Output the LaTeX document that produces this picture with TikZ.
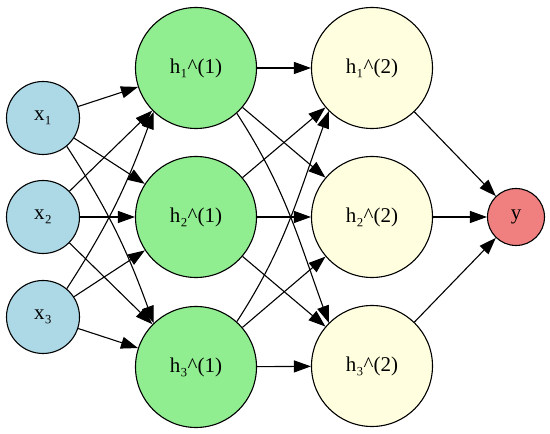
\documentclass[tikz,border=0pt]{standalone}
\usepackage{fontspec}
\setmainfont{Liberation Serif}
\usetikzlibrary{arrows.meta}
\definecolor{inblue}{RGB}{173,216,230}
\definecolor{hidgreen}{RGB}{144,238,144}
\definecolor{hidyellow}{RGB}{255,255,224}
\definecolor{outred}{RGB}{240,128,128}
\tikzset{
  neuron/.style={circle,draw=black,line width=1.1pt,inner sep=0pt,font=\fontsize{21}{24}\selectfont},
  inneuron/.style={neuron,fill=inblue,minimum size=73pt},
  h1neuron/.style={neuron,fill=hidgreen,minimum size=121pt},
  h2neuron/.style={neuron,fill=hidyellow,minimum size=121pt},
  outneuron/.style={neuron,fill=outred,minimum size=57pt},
  conn/.style={draw=black,line width=1.1pt,-{Triangle[length=17pt,width=12pt]}}
}
\begin{document}
\begin{tikzpicture}[x=1pt,y=1pt]
\useasboundingbox (0,0) rectangle (550,434);
\node[inneuron] (x1) at (43,316) {x₁};
\node[inneuron] (x2) at (43,217) {x₂};
\node[inneuron] (x3) at (43,117) {x₃};
\node[h1neuron] (a1) at (196,366) {h₁\textasciicircum(1)};
\node[h1neuron] (a2) at (196,217) {h₂\textasciicircum(1)};
\node[h1neuron] (a3) at (196,67) {h₃\textasciicircum(1)};
\node[h2neuron] (b1) at (372,366) {h₁\textasciicircum(2)};
\node[h2neuron] (b2) at (372,217) {h₂\textasciicircum(2)};
\node[h2neuron] (b3) at (372,68) {h₃\textasciicircum(2)};
\node[outneuron] (y) at (516,217) {y};
% input -> hidden 1
\draw[conn] (x1) -- (a1);
\draw[conn] (x1) -- (a2);
\draw[conn] (x1.-50) to[out=-57,in=110] (a3.134);
\draw[conn] (x2) -- (a1);
\draw[conn] (x2) -- (a2);
\draw[conn] (x2) -- (a3);
\draw[conn] (x3.50) to[out=57,in=-110] (a1.-134);
\draw[conn] (x3) -- (a2);
\draw[conn] (x3) -- (a3);
% hidden 1 -> hidden 2
\draw[conn] (a1) -- (b1);
\draw[conn] (a1) -- (b2);
\draw[conn] (a1.-48) to[out=-57,in=110] (b3.135);
\draw[conn] (a2) -- (b1);
\draw[conn] (a2) -- (b2);
\draw[conn] (a2) -- (b3);
\draw[conn] (a3.48) to[out=57,in=-110] (b1.-135);
\draw[conn] (a3) -- (b2);
\draw[conn] (a3) -- (b3);
% hidden 2 -> output
\draw[conn] (b1) -- (y);
\draw[conn] (b2) -- (y);
\draw[conn] (b3) -- (y);
\end{tikzpicture}
\end{document}
